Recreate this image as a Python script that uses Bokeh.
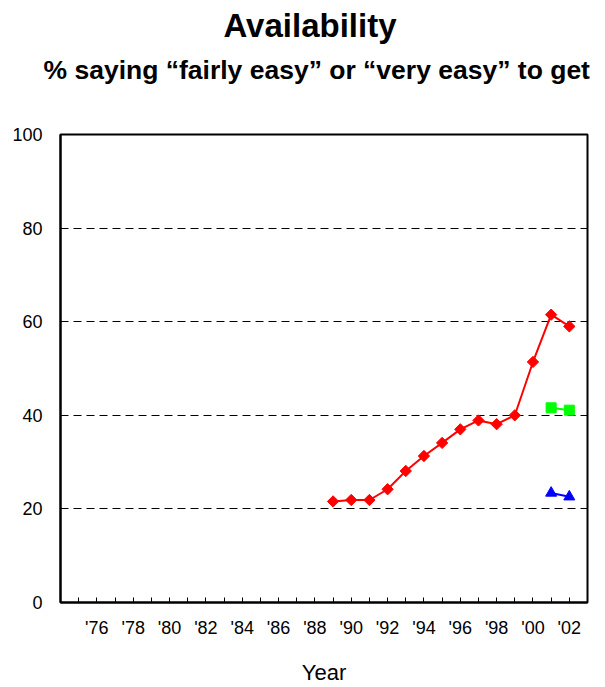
from bokeh.plotting import figure
from bokeh.models import Range1d, FixedTicker, Title
from bokeh.embed import file_html
from bokeh.resources import INLINE

# ---- data ----
red_years = [1989, 1990, 1991, 1992, 1993, 1994, 1995, 1996, 1997, 1998, 1999, 2000, 2001, 2002]
red_values = [21.6, 21.9, 21.9, 24.2, 28.1, 31.3, 34.1, 37.0, 38.9, 38.1, 40.0, 51.4, 61.5, 59.0]
new_years = [2001, 2002]
green_values = [41.6, 41.1]
blue_values = [23.4, 22.6]
tick_years = list(range(1975, 2003))
label_years = list(range(1976, 2003, 2))
label_texts = ["'76", "'78", "'80", "'82", "'84", "'86", "'88", "'90",
               "'92", "'94", "'96", "'98", "'00", "'02"]
y_ticks = [0, 20, 40, 60, 80, 100]
grid_ticks = [20, 40, 60, 80]

FONT = "Liberation Sans"

p = figure(width=605, height=687, output_backend="svg", toolbar_location=None,
           x_range=Range1d(1974, 2003), y_range=Range1d(0, 100),
           min_border_left=60, min_border_right=18, min_border_top=134,
           min_border_bottom=85, background_fill_color="white",
           border_fill_color="white")

p.outline_line_color = "black"
p.outline_line_width = 2
p.outline_line_alpha = 1

# titles: stacked from the plot outward
spacer0 = Title(text=" ", text_font=FONT, text_font_size="1px", standoff=47)
sub = Title(text="% saying \u201cfairly easy\u201d or \u201cvery easy\u201d to get",
            align="left", offset=-17, text_font=FONT, text_font_size="26.5px",
            text_font_style="bold", text_color="black", standoff=0)
spacer1 = Title(text=" ", text_font=FONT, text_font_size="1px", standoff=6)
ttl = Title(text="Availability", align="left", offset=163, text_font=FONT,
            text_font_size="33px", text_font_style="bold", text_color="black",
            standoff=0)
p.add_layout(spacer0, "above")
p.add_layout(sub, "above")
p.add_layout(spacer1, "above")
p.add_layout(ttl, "above")

# x axis
xa = p.xaxis[0]
xa.ticker = FixedTicker(ticks=label_years,
                        minor_ticks=[y for y in tick_years if y not in label_years])
xa.major_label_overrides = {yr: t for yr, t in zip(label_years, label_texts)}
xa.major_tick_in = 5
xa.major_tick_out = 0
xa.minor_tick_in = 5
xa.minor_tick_out = 0
xa.major_tick_line_color = "black"
xa.minor_tick_line_color = "black"
xa.major_tick_line_width = 1
xa.minor_tick_line_width = 1
xa.axis_line_color = "black"
xa.axis_line_width = 2
xa.major_label_text_font = FONT
xa.major_label_text_font_size = "18px"
xa.major_label_text_color = "black"
xa.major_label_standoff = 15
xa.axis_label = "Year"
xa.axis_label_text_font = FONT
xa.axis_label_text_font_size = "22px"
xa.axis_label_text_font_style = "normal"
xa.axis_label_text_color = "black"
xa.axis_label_standoff = 19

# y axis
ya = p.yaxis[0]
ya.ticker = FixedTicker(ticks=y_ticks)
ya.major_tick_in = 0
ya.major_tick_out = 0
ya.minor_tick_line_color = None
ya.axis_line_color = "black"
ya.axis_line_width = 2
ya.major_label_text_font = FONT
ya.major_label_text_font_size = "18px"
ya.major_label_text_color = "black"
ya.major_label_standoff = 18

# grid
p.xgrid.grid_line_color = None
p.ygrid.ticker = FixedTicker(ticks=grid_ticks)
p.ygrid.grid_line_color = "black"
p.ygrid.grid_line_width = 1
p.ygrid.grid_line_dash = "8 5"

# series
p.line(red_years, red_values, line_color="#FF0000", line_width=2)
p.scatter(red_years, red_values, marker="square", angle=0.785398, size=8,
          fill_color="#FF0000", line_color="#FF0000")

p.line(new_years, green_values, line_color="#00FF00", line_width=2)
p.scatter(new_years, green_values, marker="square", size=10,
          fill_color="#00FF00", line_color="#00FF00")

p.line(new_years, blue_values, line_color="#0000FF", line_width=2)
p.scatter(new_years, blue_values, marker="triangle", size=11,
          fill_color="#0000FF", line_color="#0000FF")

open("out.html", "w").write(file_html(p, INLINE))
